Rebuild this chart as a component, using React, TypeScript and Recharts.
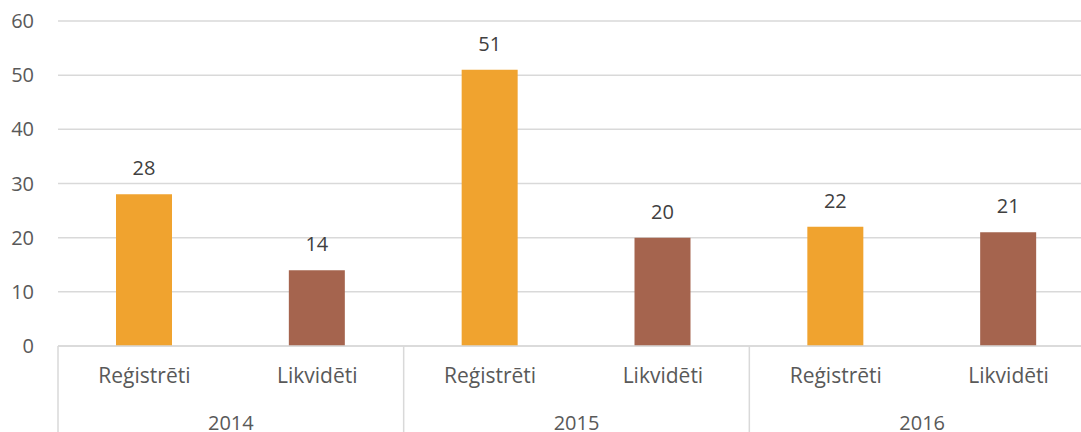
import React from "react";
import { Bar, BarChart, CartesianGrid, Cell, LabelList, XAxis, YAxis } from "recharts";

// Company counts per year, grouped as registered / liquidated.
const YEARS = ["2014", "2015", "2016"];
const KINDS = ["Reģistrēti", "Likvidēti"];
const VALUES = [28, 14, 51, 20, 22, 21];
const Y_TICKS = [0, 10, 20, 30, 40, 50, 60];
const KIND_COLORS = ["#F0A32F", "#A5644E"];

const rows = VALUES.map((value, i) => ({
  label: KINDS[i % KINDS.length],
  year: YEARS[Math.floor(i / KINDS.length)],
  kind: i % KINDS.length,
  value,
}));

const CHART_W = 1095;
const CHART_H = 432;
const Y_AXIS_W = 58;
const PLOT_W = CHART_W - Y_AXIS_W;
const BAND = PLOT_W / rows.length;
const FONT = "'Open Sans', sans-serif";
const AXIS_TEXT = "#595959";
const GRID = "#d9d9d9";

// Two-level category tick: item label, year under each pair, and the group separators.
const GroupTick = (props: any) => {
  const { x, y, index, payload } = props;
  const row = rows[index];
  return (
    <g>
      <text x={x} y={y + 37} textAnchor="middle" fill={AXIS_TEXT} fontSize={21} fontFamily={FONT}>
        {payload.value}
      </text>
      {row && row.kind === 1 && (
        <text x={x - BAND / 2} y={y + 84} textAnchor="middle" fill={AXIS_TEXT} fontSize={20} fontFamily={FONT}>
          {row.year}
        </text>
      )}
      {row && row.kind === 0 && (
        <line x1={x - BAND / 2} x2={x - BAND / 2} y1={y} y2={y + 120} stroke={GRID} strokeWidth={1.5} />
      )}
    </g>
  );
};

export default function App() {
  return (
    <div style={{ position: "absolute", left: 0, top: 0, width: 1081, height: 432, overflow: "hidden", background: "#fff" }}>
      <BarChart
        width={CHART_W}
        height={CHART_H}
        data={rows}
        margin={{ top: 21, right: 0, bottom: 0, left: 0 }}
      >
        <CartesianGrid vertical={false} stroke={GRID} strokeWidth={1.5} />
        <XAxis
          dataKey="label"
          interval={0}
          height={86}
          tickLine={false}
          tickSize={0}
          tickMargin={0}
          axisLine={{ stroke: GRID, strokeWidth: 1.5 }}
          tick={<GroupTick />}
        />
        <YAxis
          width={Y_AXIS_W}
          domain={[0, 60]}
          ticks={Y_TICKS}
          interval={0}
          axisLine={false}
          tickLine={false}
          tickMargin={18}
          tick={{ fontSize: 20, fill: AXIS_TEXT, fontFamily: FONT }}
        />
        <Bar dataKey="value" barSize={56} isAnimationActive={false}>
          {rows.map((r, i) => (
            <Cell key={i} fill={KIND_COLORS[r.kind]} />
          ))}
          <LabelList
            dataKey="value"
            position="top"
            offset={19}
            fill="#404040"
            fontSize={20}
            fontFamily={FONT}
          />
        </Bar>
      </BarChart>
    </div>
  );
}
